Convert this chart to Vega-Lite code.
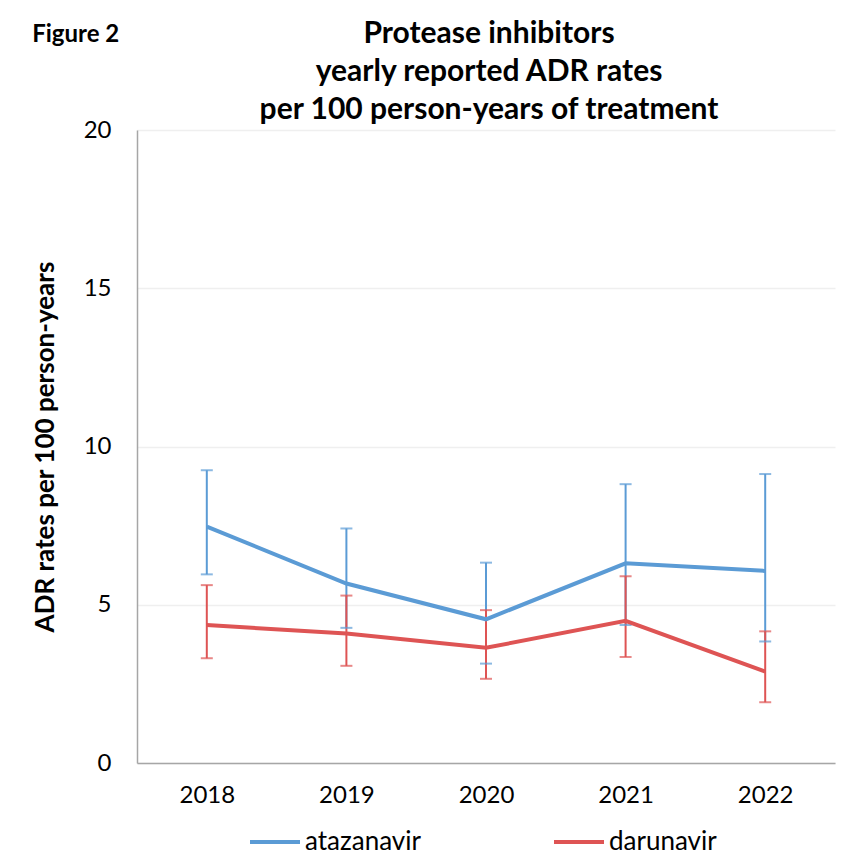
{
  "$schema": "https://vega.github.io/schema/vega-lite/v6.json",
  "background": "white",
  "padding": {"left": 32, "top": 19, "right": 10, "bottom": 10},
  "title": {
    "text": "Figure 2",
    "anchor": "start",
    "frame": "bounds",
    "font": "Lato",
    "fontSize": 24,
    "fontWeight": "bold",
    "color": "#000000",
    "dy": 32
  },
  "datasets": {
    "adr": [
      {"year": "2018", "drug": "atazanavir", "rate": 7.47, "lo": 5.96, "hi": 9.25},
      {"year": "2019", "drug": "atazanavir", "rate": 5.67, "lo": 4.27, "hi": 7.41},
      {"year": "2020", "drug": "atazanavir", "rate": 4.54, "lo": 3.14, "hi": 6.33},
      {"year": "2021", "drug": "atazanavir", "rate": 6.31, "lo": 4.36, "hi": 8.81},
      {"year": "2022", "drug": "atazanavir", "rate": 6.07, "lo": 3.84, "hi": 9.13},
      {"year": "2018", "drug": "darunavir", "rate": 4.36, "lo": 3.31, "hi": 5.62},
      {"year": "2019", "drug": "darunavir", "rate": 4.09, "lo": 3.07, "hi": 5.29},
      {"year": "2020", "drug": "darunavir", "rate": 3.64, "lo": 2.66, "hi": 4.83},
      {"year": "2021", "drug": "darunavir", "rate": 4.49, "lo": 3.35, "hi": 5.90},
      {"year": "2022", "drug": "darunavir", "rate": 2.89, "lo": 1.92, "hi": 4.16}
    ]
  },
  "vconcat": [
    {
      "width": 698,
      "height": 633,
      "title": {
        "text": ["Protease inhibitors", "yearly reported ADR rates", "per 100 person-years of treatment"],
        "anchor": "middle",
        "frame": "group",
        "font": "Lato",
        "fontSize": 30,
        "fontWeight": "bold",
        "lineHeight": 38,
        "color": "#000000",
        "offset": -7,
        "dx": 3
      },
      "data": {"name": "adr"},
      "encoding": {
        "x": {
          "field": "year",
          "type": "ordinal",
          "scale": {"type": "point", "padding": 0.5},
          "axis": {
            "title": null,
            "labelAngle": 0,
            "labelFontSize": 24,
            "labelPadding": 20,
            "ticks": false,
            "domainColor": "#A6A6A6",
            "domainWidth": 1.5
          }
        },
        "color": {
          "field": "drug",
          "type": "nominal",
          "title": null,
          "scale": {"domain": ["atazanavir", "darunavir"], "range": ["#5B9BD5", "#DE5454"]}
        }
      },
      "layer": [
        {
          "mark": {"type": "rule", "strokeWidth": 2},
          "encoding": {
            "y": {"field": "lo", "type": "quantitative"},
            "y2": {"field": "hi"}
          }
        },
        {
          "mark": {"type": "tick", "orient": "horizontal", "size": 12, "thickness": 2},
          "encoding": {"y": {"field": "lo", "type": "quantitative"}}
        },
        {
          "mark": {"type": "tick", "orient": "horizontal", "size": 12, "thickness": 2},
          "encoding": {"y": {"field": "hi", "type": "quantitative"}}
        },
        {
          "mark": {"type": "line", "strokeWidth": 4},
          "encoding": {
            "y": {
              "field": "rate",
              "type": "quantitative",
              "scale": {"domain": [0, 20]},
              "axis": {
                "title": "ADR rates per 100 person-years",
                "titleFontSize": 26,
                "titleFontWeight": "bold",
                "titlePadding": 25,
                "values": [0, 5, 10, 15, 20],
                "labelFontSize": 24,
                "labelPadding": 26,
                "ticks": false,
                "grid": true,
                "gridColor": "#EFEFEF",
                "gridWidth": 1.5,
                "domainColor": "#A6A6A6",
                "domainWidth": 1.5
              }
            }
          }
        }
      ]
    }
  ],
  "config": {
    "font": "Lato",
    "view": {"stroke": null},
    "axis": {"labelColor": "#000000", "titleColor": "#000000", "labelFont": "Lato", "titleFont": "Lato"},
    "legend": {
      "orient": "none",
      "legendX": 111,
      "legendY": 685,
      "direction": "horizontal",
      "symbolType": "stroke",
      "symbolSize": 2500,
      "symbolStrokeWidth": 4,
      "symbolOpacity": 1,
      "labelFontSize": 26,
      "labelFont": "Lato",
      "labelColor": "#000000",
      "labelOffset": 3,
      "columnPadding": 125,
      "padding": 0
    }
  }
}
